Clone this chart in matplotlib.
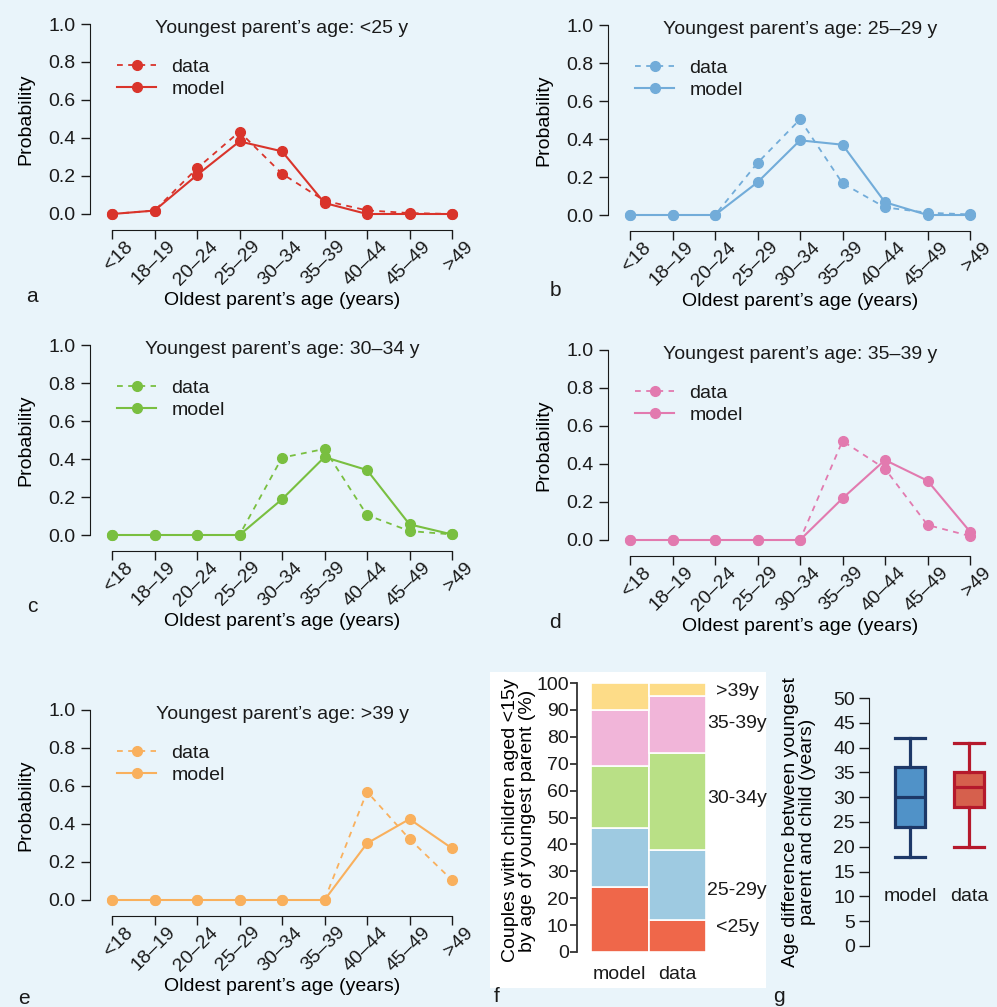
import matplotlib
matplotlib.use("Agg")
import matplotlib.pyplot as plt
from matplotlib.patches import Rectangle
from matplotlib.transforms import ScaledTranslation, blended_transform_factory

plt.rcParams['font.family'] = ['Liberation Sans', 'DejaVu Sans']
plt.rcParams['font.size'] = 14
plt.rcParams['text.color'] = '#1a1a1a'
plt.rcParams['axes.edgecolor'] = '#1a1a1a'
plt.rcParams['xtick.color'] = '#1a1a1a'
plt.rcParams['ytick.color'] = '#1a1a1a'

# ---- data ----
ages = ['<18', '18–19', '20–24', '25–29', '30–34', '35–39', '40–44', '45–49', '>49']

data_lt25 = [0.0, 0.018, 0.24, 0.433, 0.212, 0.07, 0.019, 0.005, 0.0]
model_lt25 = [0.0, 0.018, 0.205, 0.382, 0.33, 0.058, 0.0, 0.0, 0.0]
data_25_29 = [0.0, 0.0, 0.0, 0.274, 0.503, 0.167, 0.04, 0.012, 0.003]
model_25_29 = [0.0, 0.0, 0.0, 0.172, 0.393, 0.37, 0.067, 0.0, 0.0]
data_30_34 = [0.0, 0.0, 0.0, 0.0, 0.407, 0.453, 0.105, 0.021, 0.003]
model_30_34 = [0.0, 0.0, 0.0, 0.0, 0.188, 0.41, 0.342, 0.056, 0.003]
data_35_39 = [0.0, 0.0, 0.0, 0.0, 0.0, 0.521, 0.375, 0.079, 0.021]
model_35_39 = [0.0, 0.0, 0.0, 0.0, 0.0, 0.219, 0.421, 0.312, 0.044]
data_gt39 = [0.0, 0.0, 0.0, 0.0, 0.0, 0.0, 0.57, 0.321, 0.105]
model_gt39 = [0.0, 0.0, 0.0, 0.0, 0.0, 0.0, 0.298, 0.426, 0.272]

# panel f: share of couples by age of youngest parent (%)
groups = ['<25y', '25-29y', '30-34y', '35-39y', '>39y']
share_model = [24, 22, 23, 21, 10]
share_data = [12, 26, 36, 21, 5]
group_colors = ['#ef674a', '#9ecae1', '#b9e086', '#f1b5d9', '#fddc88']
group_label_y = [9, 23, 57, 85, 97]

# panel g: age difference between youngest parent and child
box_names = ['model', 'data']
box_min = [18, 20]
box_q1 = [24, 28]
box_med = [30, 32]
box_q3 = [36, 35]
box_max = [42, 41]

bg = '#e9f4fa'
W, H = 997, 1007
fig = plt.figure(figsize=(W / 100, H / 100), dpi=100, facecolor=bg)


def px_axes(l, t, r, b):
    return fig.add_axes([l / W, 1 - b / H, (r - l) / W, (b - t) / H])


def letter(x, y, s):
    fig.text(x / W, 1 - y / H, s, ha='center', va='center', fontsize=15)


XU, YU = 42.5, 190.0


def line_panel(x0, y0, title, data, model, color):
    ax = px_axes(x0 - 0.32 * XU, y0 - 1.04 * YU, x0 + 8.32 * XU, y0 + 0.04 * YU)
    ax.set_facecolor('none')
    xs = list(range(len(ages)))
    ax.plot(xs, data, '--', color=color, lw=1.3, marker='o', ms=7,
            dashes=(3.2, 3), label='data', clip_on=False)
    ax.plot(xs, model, '-', color=color, lw=1.5, marker='o', ms=7,
            label='model', clip_on=False)
    ax.set_xlim(-0.32, 8.32)
    ax.set_ylim(-0.04, 1.04)
    for s in ['top', 'right']:
        ax.spines[s].set_visible(False)
    ax.spines['left'].set_position(('outward', 6))
    ax.spines['bottom'].set_position(('outward', 6))
    ax.spines['left'].set_bounds(0, 1)
    ax.spines['bottom'].set_bounds(0, 8)
    ax.set_yticks([0, 0.2, 0.4, 0.6, 0.8, 1.0])
    ax.set_yticklabels(['0.0', '0.2', '0.4', '0.6', '0.8', '1.0'])
    ax.set_xticks(xs)
    ax.set_xticklabels(ages, rotation=45, ha='right', va='center',
                       rotation_mode='anchor')
    ax.tick_params(axis='both', length=6.5, width=1.0)
    ax.tick_params(axis='y', pad=4)
    ax.tick_params(axis='x', pad=3.5)
    for lab in ax.get_xticklabels():
        lab.set_transform(lab.get_transform() +
                          ScaledTranslation(0.18, 0, fig.dpi_scale_trans))
    ax.set_ylabel('Probability')
    ax.yaxis.set_label_coords(-0.175, 0.5)
    ax.set_xlabel('Oldest parent’s age (years)')
    ax.xaxis.set_label_coords(0.5, -0.345)
    ax.text(0.5, 0.985, title,
            transform=blended_transform_factory(ax.transAxes, ax.transData),
            ha='center', va='center_baseline')
    ax.legend(loc='upper left', bbox_to_anchor=(0.12, 0.82),
              bbox_transform=ax.transData, frameon=False, borderpad=0,
              borderaxespad=0, handlelength=2.0, handletextpad=0.8,
              labelspacing=0.25, numpoints=1)
    return ax


line_panel(112, 214, 'Youngest parent’s age: <25 y', data_lt25, model_lt25, '#d9342b')
line_panel(630, 215, 'Youngest parent’s age: 25–29 y', data_25_29, model_25_29, '#72acd9')
line_panel(112, 535, 'Youngest parent’s age: 30–34 y', data_30_34, model_30_34, '#79bf40')
line_panel(630, 540, 'Youngest parent’s age: 35–39 y', data_35_39, model_35_39, '#e27aaf')
line_panel(112, 900, 'Youngest parent’s age: >39 y', data_gt39, model_gt39, '#f9b05d')

letter(32, 296, 'a')
letter(555, 291, 'b')
letter(32, 607, 'c')
letter(555, 622, 'd')
letter(24, 999, 'e')
letter(497, 997, 'f')
letter(779, 997, 'g')

# ---- panel f: stacked bars ----
fig.patches.append(Rectangle((490 / W, 1 - 988 / H), (766 - 490) / W, (988 - 672) / H,
                             transform=fig.transFigure, facecolor='white',
                             edgecolor='none', zorder=-5))
BU = 57.5
YF = 2.69
axf = px_axes(577, 683 - 4 * YF, 766, 952 + 4 * YF)
axf.set_facecolor('none')
axf.set_xlim(-0.5 - 14 / BU, 1.5 + 60 / BU)
axf.set_ylim(-4, 104)
bm, bd = 0, 0
for i in range(len(groups)):
    axf.bar([0, 1], [share_model[i], share_data[i]], bottom=[bm, bd], width=1.0,
            color=group_colors[i], edgecolor='white', linewidth=1.2)
    bm += share_model[i]
    bd += share_data[i]
    axf.text(2.04, group_label_y[i], groups[i], ha='center', va='center', fontsize=14)
for s in ['top', 'right', 'bottom']:
    axf.spines[s].set_visible(False)
axf.spines['left'].set_bounds(0, 100)
axf.spines['left'].set_linewidth(1.3)
axf.spines['left'].set_color('#333333')
axf.set_yticks(range(0, 101, 10))
axf.tick_params(axis='y', length=5, width=1.3, pad=1, color='#333333')
axf.set_xticks([0, 1])
axf.set_xticklabels(['model', 'data'])
axf.tick_params(axis='x', length=0, pad=2)
axf.set_ylabel('Couples with children aged <15y\nby age of youngest parent (%)',
               linespacing=1.0)
axf.yaxis.set_label_coords((536 - 577) / (766 - 577), 0.49)

# ---- panel g: boxplot ----
GX, GY = 59.0, 4.96
axg = px_axes(869, 698 - 2 * GY, 997, 946 + 2 * GY)
axg.set_facecolor('none')
axg.set_xlim(1 - 41 / GX, 2 + 28 / GX)
axg.set_ylim(-2, 52)
stats = []
for i in range(2):
    stats.append(dict(med=box_med[i], q1=box_q1[i], q3=box_q3[i],
                      whislo=box_min[i], whishi=box_max[i], label=box_names[i]))
faces = ['#5092c8', '#d6604d']
edges = ['#1d3868', '#b5192c']
for i in range(2):
    axg.bxp([stats[i]], positions=[i + 1], widths=0.525, capwidths=0.525,
            showfliers=False, patch_artist=True,
            boxprops=dict(facecolor=faces[i], edgecolor=edges[i], linewidth=2.3),
            medianprops=dict(color=edges[i], linewidth=2.3),
            whiskerprops=dict(color=edges[i], linewidth=2.3),
            capprops=dict(color=edges[i], linewidth=2.3))
    axg.text(i + 1, 10, box_names[i], ha='center', va='center', fontsize=14)
axg.set_xticks([])
for s in ['top', 'right', 'bottom']:
    axg.spines[s].set_visible(False)
axg.spines['left'].set_bounds(0, 50)
axg.set_yticks(range(0, 51, 5))
axg.tick_params(axis='y', length=7, width=1.0, pad=3)
axg.set_ylabel('Age difference between youngest\nparent and child (years)',
               linespacing=1.0)
axg.yaxis.set_label_coords((816 - 869) / (997 - 869), 0.5)

fig.savefig('out.png', dpi=100, facecolor=bg)
